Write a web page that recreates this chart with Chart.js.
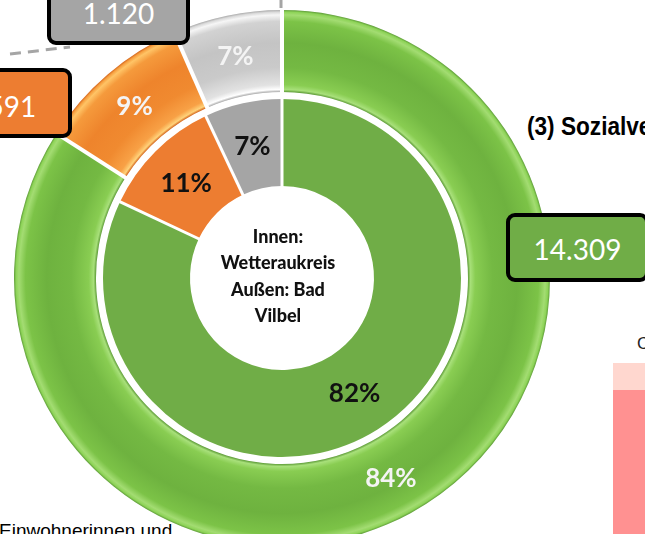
<!DOCTYPE html>
<html lang="de">
<head>
<meta charset="utf-8">
<title>Bad Vilbel und Wetteraukreis</title>
<script src="https://cdn.jsdelivr.net/npm/chart.js@4.4.1/dist/chart.umd.min.js"></script>
<style>
    html, body { margin: 0; padding: 0; background: #fff; }
    #page { position: relative; width: 645px; height: 534px; overflow: hidden; background: #fff; }
    #chartWrap { position: absolute; left: 14px; top: 10px; width: 536px; height: 536px; }
    #lines { position: absolute; left: 0; top: 0; }
    .callout {
        position: absolute; box-sizing: border-box; width: 143px;
        border: 4px solid #000; border-radius: 9px;
        color: #fff; font: 28px Lato, 'Open Sans', sans-serif;
        display: flex; align-items: center; justify-content: center;
    }
    #title3 {
        position: absolute; left: 527px; top: 111px; white-space: nowrap;
        font: bold 26px 'Liberation Sans', Arial, sans-serif; color: #000;
        transform: scaleX(0.87); transform-origin: left top;
    }
    #footText {
        position: absolute; left: -1px; top: 520px; white-space: nowrap;
        font: 19px 'Liberation Sans', Arial, sans-serif; color: #000;
    }
    #otherTitle {
        position: absolute; left: 637px; top: 334px;
        font: 17px 'Liberation Sans', Arial, sans-serif; color: #222;
    }
    #otherBarTop { position: absolute; left: 613px; top: 363px; width: 40px; height: 27px; background: #ffd7cf; }
    #otherBar { position: absolute; left: 613px; top: 390px; width: 40px; height: 150px; background: #ff9191; }
</style>
</head>
<body>
<div id="page">
    <div id="otherTitle">C</div>
    <div id="otherBarTop"></div>
    <div id="otherBar"></div>
    <div id="title3">(3) Sozialversicherungspflichtig Beschäftigte</div>
    <div id="footText">Einwohnerinnen und</div>
    <div id="chartWrap"><canvas id="chart" width="536" height="536"></canvas></div>
    <svg id="lines" width="645" height="534">
        <line x1="10" y1="54" x2="70" y2="47" stroke="#a5a5a5" stroke-width="3" stroke-dasharray="11 7"/>
        <line x1="281" y1="0" x2="281" y2="8" stroke="#a5a5a5" stroke-width="3"/>
    </svg>
    <div class="callout" id="boxGray" style="left:47px; top:-20px; height:65px; background:#a5a5a5;"></div>
    <div class="callout" id="boxOrange" style="left:-71px; top:68px; height:70px; padding-top:5px; background:#ed7d31;"></div>
    <div class="callout" id="boxGreen" style="left:506px; top:213px; height:69px; padding-top:2px; background:#70ad47;"></div>
</div>

<script>
// Außen: Bad Vilbel (Anzahl), innen: Wetteraukreis (Anteil in %)
var categories = ['Gruppe 1', 'Gruppe 2', 'Gruppe 3'];
var outerValues = [14309, 1591, 1120];
var innerShares = [82, 11, 7];
var centerLines = ['Innen:', 'Wetteraukreis', 'Außen: Bad', 'Vilbel'];

var innerColors = ['#70ad47', '#ed7d31', '#a5a5a5'];
var outerStops = [
    [[0, '#5e9c38'], [0.03, '#a8e07a'], [0.09, '#89cd52'], [0.3, '#74b943'], [0.6, '#6eb23f'], [0.86, '#7cc347'], [0.94, '#a3dc72'], [0.975, '#8ed458'], [1, '#5e9c38']],
    [[0, '#d4661c'], [0.03, '#ffd27a'], [0.09, '#f8a146'], [0.3, '#f08a30'], [0.6, '#ee842c'], [0.86, '#f59a3c'], [0.94, '#ffc466'], [0.975, '#f7a040'], [1, '#d4661c']],
    [[0, '#a9a9a9'], [0.03, '#ffffff'], [0.09, '#e2e2e2'], [0.3, '#cacaca'], [0.6, '#c4c4c4'], [0.86, '#d2d2d2'], [0.94, '#f6f6f6'], [0.975, '#dadada'], [1, '#a9a9a9']]
];

function fmt(n) {
    return String(n).replace(/\B(?=(\d{3})+(?!\d))/g, '.');
}

function percentLabels(values) {
    var total = values.reduce(function(a, b) { return a + b; }, 0);
    return values.map(function(v) { return Math.round(v / total * 100) + '%'; });
}

function outerGradient(c) {
    var stops = outerStops[c.dataIndex];
    var chart = c.chart;
    var ctrl = chart.getDatasetMeta(c.datasetIndex).controller;
    if (!chart.chartArea || !ctrl || !ctrl.outerRadius) {
        return stops[4][1];
    }
    var a = chart.chartArea;
    var cx = (a.left + a.right) / 2;
    var cy = (a.top + a.bottom) / 2;
    var g = chart.ctx.createRadialGradient(cx, cy, ctrl.innerRadius, cx, cy, ctrl.outerRadius);
    stops.forEach(function(s) { g.addColorStop(s[0], s[1]); });
    return g;
}

var ringLabels = [percentLabels(outerValues), null, percentLabels(innerShares)];

var ringDecor = {
    id: 'ringDecor',
    afterDatasetsDraw: function(chart) {
        var ctx = chart.ctx;
        ctx.save();
        // white separators between segments
        ctx.strokeStyle = '#ffffff';
        [0, 2].forEach(function(di) {
            chart.getDatasetMeta(di).data.forEach(function(arc) {
                var p = arc.getProps(['x', 'y', 'startAngle', 'innerRadius', 'outerRadius']);
                var c = Math.cos(p.startAngle), s = Math.sin(p.startAngle);
                ctx.lineWidth = di === 0 ? 4 : 3;
                ctx.beginPath();
                ctx.moveTo(p.x + c * (p.innerRadius - 1), p.y + s * (p.innerRadius - 1));
                ctx.lineTo(p.x + c * (p.outerRadius + 1), p.y + s * (p.outerRadius + 1));
                ctx.stroke();
            });
        });
        // percentage labels
        ctx.textAlign = 'center';
        ctx.textBaseline = 'middle';
        ctx.font = 'bold 26px Lato, "Open Sans", sans-serif';
        [0, 2].forEach(function(di) {
            ctx.fillStyle = di === 0 ? '#f4f4f4' : '#111111';
            chart.getDatasetMeta(di).data.forEach(function(arc, i) {
                var pos = arc.tooltipPosition();
                ctx.fillText(ringLabels[di][i], pos.x, pos.y + 1);
            });
        });
        // center text
        var a = chart.chartArea;
        var cx = (a.left + a.right) / 2 - 4;
        var cy = (a.top + a.bottom) / 2;
        ctx.fillStyle = '#111111';
        ctx.font = '900 18px Lato, "Open Sans", sans-serif';
        centerLines.forEach(function(line, i) {
            ctx.fillText(line, cx, cy - 41 + i * 26.5);
        });
        ctx.restore();
    }
};

var ctx = document.getElementById('chart').getContext('2d');
var myChart = new Chart(ctx, {
    type: 'doughnut',
    data: {
        labels: categories,
        datasets: [{
            label: 'Bad Vilbel',
            data: outerValues,
            backgroundColor: outerGradient,
            borderWidth: 0,
            hoverBorderWidth: 0,
            weight: 82
        }, {
            label: '',
            data: [1],
            backgroundColor: 'rgba(0,0,0,0)',
            borderWidth: 0,
            hoverBorderWidth: 0,
            weight: 7
        }, {
            label: 'Wetteraukreis',
            data: innerShares,
            backgroundColor: innerColors,
            borderWidth: 0,
            hoverBorderWidth: 0,
            weight: 87
        }]
    },
    options: {
        responsive: false,
        animation: false,
        cutout: 92,
        layout: { padding: 0 },
        plugins: {
            legend: { display: false },
            tooltip: { enabled: false }
        }
    },
    plugins: [ringDecor]
});

// callout boxes with absolute numbers of Bad Vilbel
document.getElementById('boxGreen').textContent = fmt(outerValues[0]);
document.getElementById('boxOrange').textContent = fmt(outerValues[1]);
document.getElementById('boxGray').textContent = fmt(outerValues[2]);
</script>
</body>
</html>
